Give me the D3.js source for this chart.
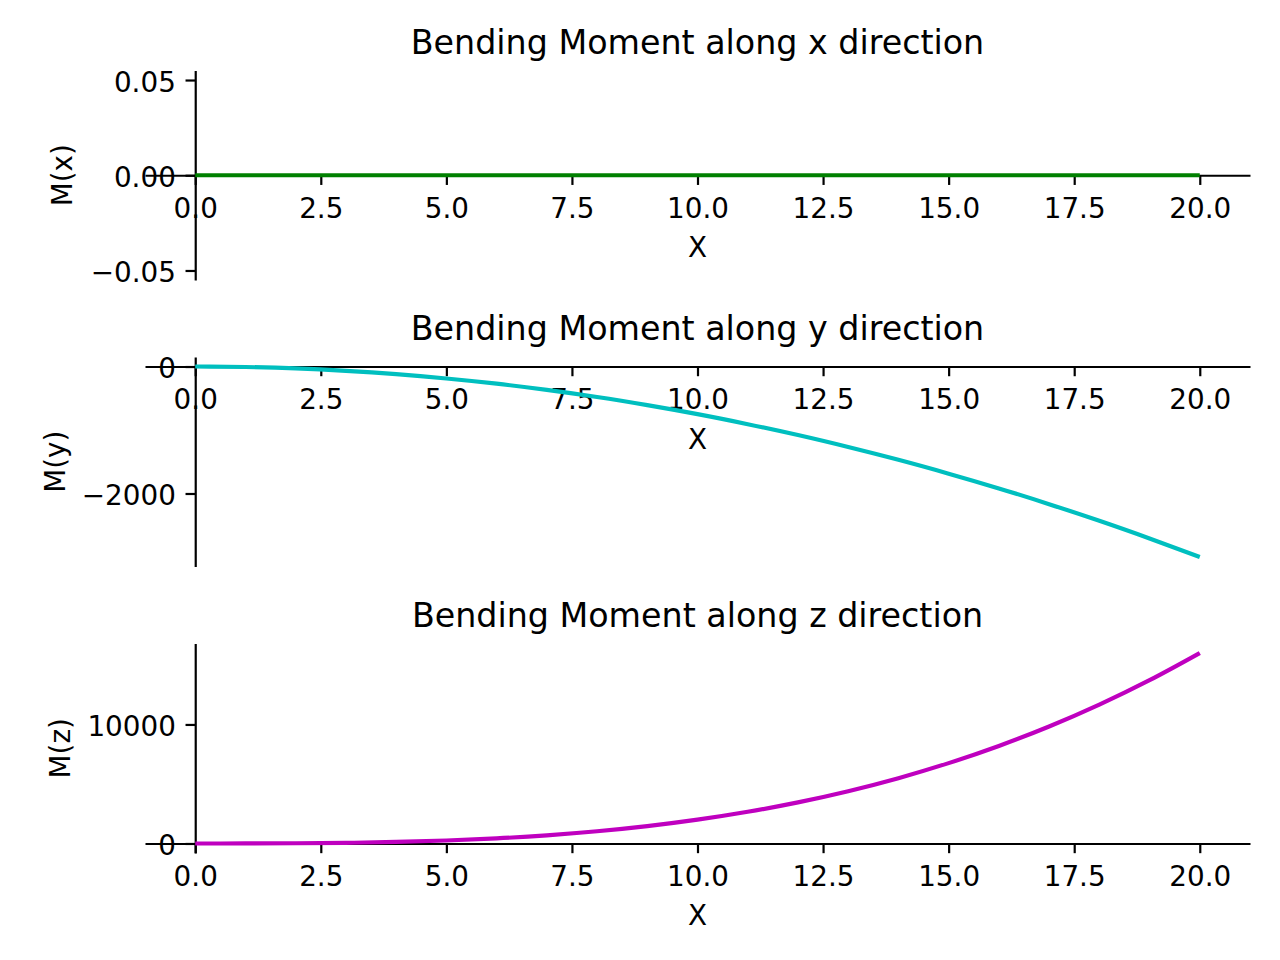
<!DOCTYPE html>
<html>
<head>
<meta charset="utf-8">
<script src="https://cdn.jsdelivr.net/npm/d3@7"></script>
<style>
  html, body { margin: 0; padding: 0; background: #fff; }
  svg { display: block; font-family: "DejaVu Sans", sans-serif; }
</style>
</head>
<body>
<svg id="chart" width="1280" height="960"></svg>
<script>
// ---- data ----
const xs = [0,1,2,3,4,5,6,7,8,9,10,11,12,13,14,15,16,17,18,19,20];
const momentX = [0,0,0,0,0,0,0,0,0,0,0,0,0,0,0,0,0,0,0,0,0];
const momentY = [0,-8,-30,-68,-120,-188,-270,-368,-480,-608,-750,-908,-1080,-1268,-1470,-1688,-1920,-2168,-2430,-2708,-3000];
const momentZ = [0,2,16,54,128,250,432,686,1024,1458,2000,2662,3456,4394,5488,6750,8192,9826,11664,13718,16000];
const xTicks = [0,2.5,5,7.5,10,12.5,15,17.5,20];
const yTicksX = [-0.05,0,0.05];
const yTicksY = [-2000,0];
const yTicksZ = [0,10000];
const titles = ["Bending Moment along x direction","Bending Moment along y direction","Bending Moment along z direction"];
const yLabels = ["M(x)","M(y)","M(z)"];
const colors = ["#008000","#00bfbf","#bf00bf"];

const panels = [
  {vals: momentX, ticks: yTicksX, fmt: d3.format(".2f"), top: 70.5, ylabX: 71.5},
  {vals: momentY, ticks: yTicksY, fmt: d3.format("d"), top: 357, ylabX: 64.5},
  {vals: momentZ, ticks: yTicksZ, fmt: d3.format("d"), top: 643.5, ylabX: 69.7}
];

const svg = d3.select("#chart");
const L = 145, R = 1250, H = 209.5;
const tickFont = 27.8, titleFont = 33.3;
const spineW = 2.2, tickLen = 9.7, pad = 9.7, lineW = 4.17;

function padded(ext) {
  let [a, b] = ext;
  if (a === b) { a -= 0.05; b += 0.05; }
  const m = (b - a) * 0.05;
  return [a - m, b + m];
}

const xExt = padded(d3.extent(xs));
const x = d3.scaleLinear().domain(xExt).range([L, R]);

panels.forEach((p, i) => {
  const y = d3.scaleLinear().domain(padded(d3.extent(p.vals))).range([p.top + H, p.top]);
  const g = svg.append("g");
  const y0 = y(0), x0 = x(0);

  const xa = g.append("g").attr("transform", `translate(0,${y0})`)
    .call(d3.axisBottom(x).tickValues(xTicks).tickFormat(d3.format(".1f"))
      .tickSize(tickLen).tickSizeOuter(0).tickPadding(13.5));
  const ya = g.append("g").attr("transform", `translate(${x0},0)`)
    .call(d3.axisLeft(y).tickValues(p.ticks).tickFormat(p.fmt)
      .tickSize(tickLen).tickSizeOuter(0).tickPadding(pad));
  [xa, ya].forEach(a => {
    a.select(".domain").attr("stroke", "#000").attr("stroke-width", spineW);
    a.selectAll("line").attr("stroke", "#000").attr("stroke-width", spineW);
    a.selectAll("text").attr("fill", "#000").style("font-size", tickFont + "px")
      .style("font-family", "DejaVu Sans");
  });
  ya.selectAll("text").attr("dy", null).attr("y", 11);

  // data line
  const line = d3.line().x((d, k) => x(xs[k])).y(d => y(d)).curve(d3.curveMonotoneX);
  g.append("path").datum(p.vals).attr("d", line)
    .attr("fill", "none").attr("stroke", colors[i]).attr("stroke-width", lineW)
    .attr("stroke-linecap", "butt");

  // title
  g.append("text").attr("x", (L + R) / 2).attr("y", p.top - 17)
    .attr("text-anchor", "middle").style("font-size", titleFont + "px").text(titles[i]);
  // x label
  g.append("text").attr("x", (L + R) / 2).attr("y", y0 + 82)
    .attr("text-anchor", "middle").style("font-size", tickFont + "px").text("X");
  // y label
  g.append("text").attr("transform", `translate(${p.ylabX},${p.top + H / 2}) rotate(-90)`)
    .attr("text-anchor", "middle").style("font-size", tickFont + "px").text(yLabels[i]);
});
</script>
</body>
</html>
